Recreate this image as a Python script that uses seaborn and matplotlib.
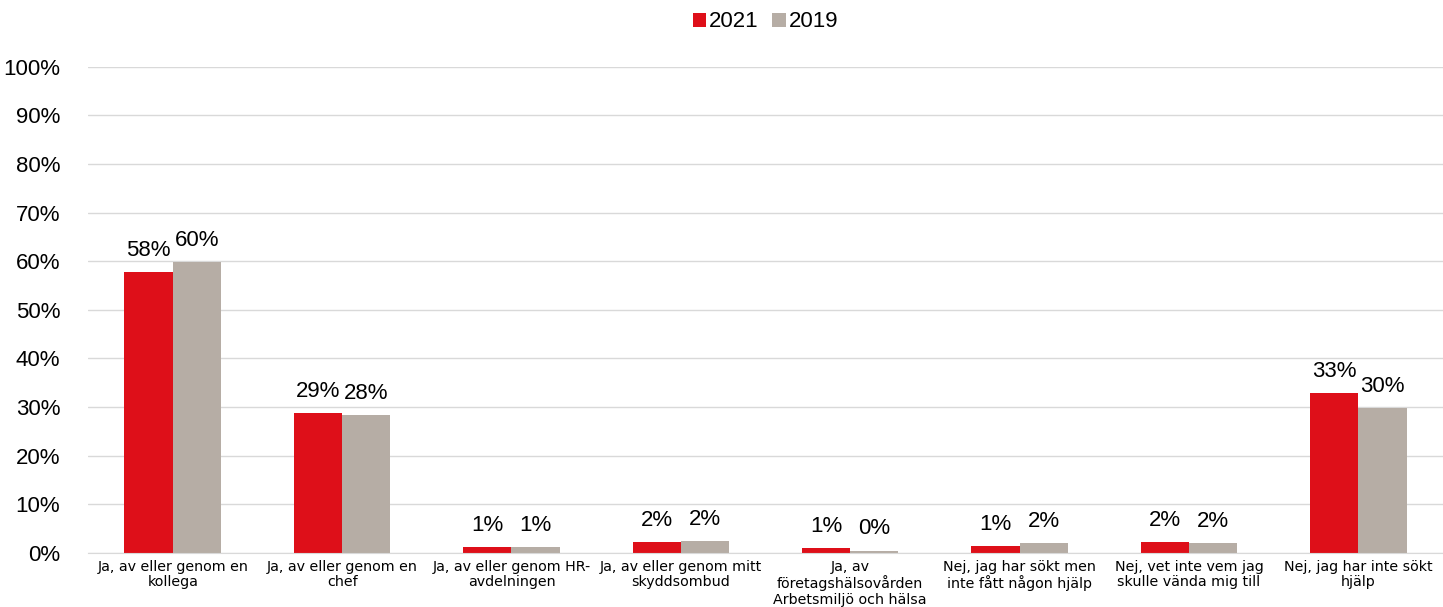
import pandas as pd
import matplotlib.pyplot as plt
import seaborn as sns
from matplotlib.ticker import PercentFormatter

# data
categories = [
    "Ja, av eller genom en\nkollega",
    "Ja, av eller genom en\nchef",
    "Ja, av eller genom HR-\navdelningen",
    "Ja, av eller genom mitt\nskyddsombud",
    "Ja, av\nföretagshälsovården\nArbetsmiljö och hälsa",
    "Nej, jag har sökt men\ninte fått någon hjälp",
    "Nej, vet inte vem jag\nskulle vända mig till",
    "Nej, jag har inte sökt\nhjälp",
]
values_2021 = [57.8, 28.8, 1.2, 2.3, 1.0, 1.4, 2.3, 32.9]
values_2019 = [59.9, 28.4, 1.3, 2.4, 0.5, 2.1, 2.1, 29.8]
years = ["2021", "2019"]
colors = ["#DE0F19", "#B6ADA5"]

df = pd.DataFrame({
    "kategori": categories * 2,
    "andel": values_2021 + values_2019,
    "år": [years[0]] * len(categories) + [years[1]] * len(categories),
})

sns.set_style("white")
plt.rcParams['font.family'] = ['Liberation Sans', 'DejaVu Sans']
plt.rcParams['text.color'] = 'black'

fig, ax = plt.subplots(figsize=(14.43, 6.07), dpi=100)
sns.barplot(data=df, x="kategori", y="andel", hue="år", hue_order=years,
            palette=colors, width=0.57, gap=0, saturation=1, linewidth=0,
            ax=ax, legend=True)

# value labels
for cont in ax.containers:
    ax.bar_label(cont, labels=[f"{v:.0f}%" for v in cont.datavalues],
                 padding=8, fontsize=16, color="black")

ax.set_ylim(0, 100)
ax.set_xlim(-0.5, len(categories) - 0.5)
ax.set_yticks(range(0, 101, 10))
ax.yaxis.set_major_formatter(PercentFormatter(decimals=0))
ax.tick_params(axis="y", labelsize=16, length=0, pad=20, labelcolor="black")
ax.tick_params(axis="x", length=0, pad=5, labelcolor="black")
ax.set_xticks([i - 0.5 for i in range(len(categories) + 1)], minor=True)
ax.tick_params(axis="x", which="minor", length=5, color="#D9D9D9")
ax.grid(axis="y", color="#D9D9D9", linewidth=1)
ax.set_axisbelow(True)
ax.set_xlabel("")
ax.set_ylabel("")
for s in ["top", "right", "left"]:
    ax.spines[s].set_visible(False)
ax.spines["bottom"].set_color("#D9D9D9")

for lbl in ax.get_xticklabels():
    lbl.set_family("DejaVu Sans")
    lbl.set_fontsize(10.3)
    lbl.set_linespacing(1.12)

ax.legend(loc="upper center", bbox_to_anchor=(0.5, 1.155), ncol=2, frameon=False,
          fontsize=16, handlelength=0.6, handleheight=0.6, handletextpad=0.15,
          columnspacing=0.6)

plt.subplots_adjust(left=0.061, right=1.0, top=0.89, bottom=0.089)
plt.savefig("out.png", dpi=100)
plt.close()
